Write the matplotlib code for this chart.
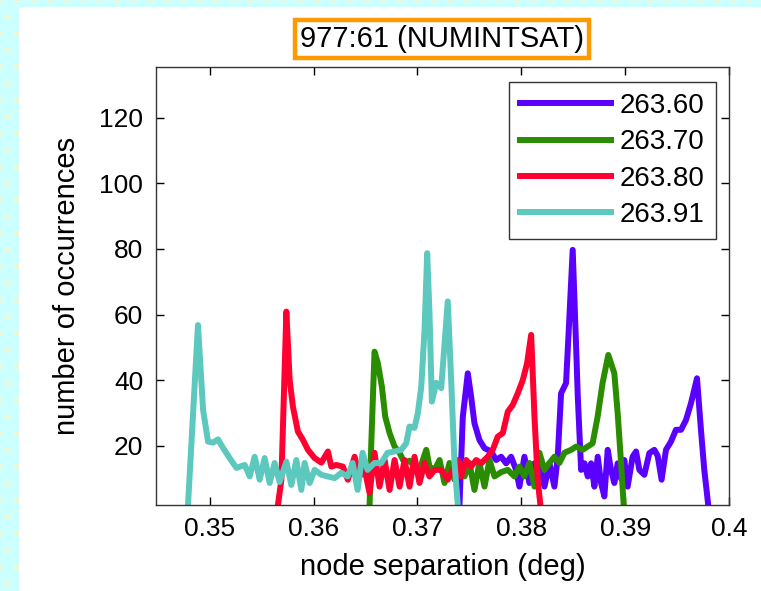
import matplotlib
matplotlib.use("Agg")
import matplotlib.pyplot as plt
from matplotlib.patches import Rectangle

plt.rcParams['font.family'] = ['Liberation Sans', 'DejaVu Sans']

# histogram traces of node separation, one per semi-major axis value
labels = ['263.60', '263.70', '263.80', '263.91']
colors = ['#5a00ff', '#2a8c00', '#ff0030', '#5cc8be']

sep_6360 = [0.37405, 0.37437, 0.37485, 0.37517, 0.37549, 0.37597, 0.37646, 0.37710,
            0.37758, 0.37806, 0.37854, 0.37902, 0.37950, 0.37982, 0.38030, 0.38078,
            0.38127, 0.38175, 0.38223, 0.38271, 0.38319, 0.38351, 0.38383, 0.38431,
            0.38457, 0.38495, 0.38528, 0.38544, 0.38576, 0.38608, 0.38640, 0.38672,
            0.38704, 0.38736, 0.38768, 0.38800, 0.38832, 0.38864, 0.38896, 0.38928,
            0.38961, 0.38992, 0.39024, 0.39072, 0.39105, 0.39137, 0.39185, 0.39233,
            0.39281, 0.39313, 0.39351, 0.39393, 0.39441, 0.39489, 0.39538, 0.39586,
            0.39634, 0.39692, 0.39730, 0.39762, 0.39800]
cnt_6360 = [2, 28.9, 42.1, 35, 26.9, 21.8, 19.3, 18.3,
            15.7, 16.7, 14.7, 16.7, 12.7, 7.6, 16.7, 8.7,
            14.7, 13.7, 7.6, 14.7, 7.6, 16.7, 36, 39.1,
            55.3, 79.7, 50.2, 35, 12.7, 14.7, 10.7, 14.7,
            7.6, 16.7, 8.7, 4.6, 18.8, 12.7, 8.7, 14.7,
            10, 15.7, 7.6, 16.7, 18.3, 12.7, 11.2, 17.8,
            18.8, 17, 9.7, 18.8, 21.3, 24.9, 24.9, 27.9,
            33, 40.6, 24.9, 12.7, 2]

sep_6370 = [0.36539, 0.36556, 0.36587, 0.36619, 0.36658, 0.36690, 0.36732, 0.36780,
            0.36828, 0.36876, 0.36924, 0.36972, 0.37020, 0.37085, 0.37116, 0.37165,
            0.37213, 0.37261, 0.37309, 0.37357, 0.37405, 0.37453, 0.37501, 0.37549,
            0.37597, 0.37646, 0.37694, 0.37742, 0.37806, 0.37870, 0.37934, 0.37982,
            0.38030, 0.38078, 0.38127, 0.38175, 0.38223, 0.38271, 0.38319, 0.38367,
            0.38415, 0.38480, 0.38528, 0.38591, 0.38687, 0.38735, 0.38783, 0.38838,
            0.38896, 0.38928, 0.38961, 0.38986]
cnt_6370 = [1.5, 21, 48.7, 45.2, 38, 28.9, 23.9, 19.8,
            17.9, 14.8, 15.5, 13.7, 12.7, 18.8, 13.7, 12.7,
            15.7, 8.7, 14.8, 9.7, 14.8, 10.7, 14.8, 6.6,
            14.8, 7.6, 15.7, 10.7, 12, 12.7, 10.7, 13.7,
            10.7, 14.8, 7.6, 17.9, 12.7, 14.8, 16.7, 14.8,
            17.9, 18.8, 19.8, 18.8, 20.8, 28.9, 39.2, 47.7,
            42.1, 30, 14.7, 2]

sep_6380 = [0.35657, 0.35690, 0.35738, 0.35770, 0.35801, 0.35849, 0.35898, 0.35946,
            0.36010, 0.36075, 0.36138, 0.36171, 0.36219, 0.36282, 0.36330, 0.36395,
            0.36443, 0.36491, 0.36539, 0.36587, 0.36635, 0.36684, 0.36732, 0.36780,
            0.36828, 0.36876, 0.36924, 0.36972, 0.37020, 0.37068, 0.37116, 0.37165,
            0.37229, 0.37292, 0.37341, 0.37389, 0.37421, 0.37469, 0.37517, 0.37566,
            0.37614, 0.37677, 0.37725, 0.37773, 0.37822, 0.37870, 0.37918, 0.37966,
            0.38014, 0.38056, 0.38095, 0.38127, 0.38158, 0.38184]
cnt_6380 = [2, 9.7, 60.9, 40, 32, 24.4, 21.8, 18.8,
            16.3, 14.9, 18.3, 13.7, 14.2, 13.7, 9.7, 16.7,
            10.7, 13, 5.7, 17.9, 7.6, 15.7, 6.6, 15.7,
            7.6, 15.7, 7.6, 16.7, 8.7, 14.8, 10.7, 12.7,
            12.7, 9.7, 12.7, 15.7, 10.7, 15.7, 13.7, 15.7,
            14.7, 16.7, 18.8, 22.8, 23.9, 30.4, 32.5, 36,
            40, 45.2, 53.8, 28.9, 9.7, 2]

sep_6391 = [0.34791, 0.34887, 0.34936, 0.34984, 0.35032, 0.35080, 0.35128, 0.35192,
            0.35257, 0.35337, 0.35385, 0.35433, 0.35481, 0.35529, 0.35577, 0.35625,
            0.35673, 0.35738, 0.35786, 0.35834, 0.35882, 0.35914, 0.35962, 0.36010,
            0.36075, 0.36135, 0.36203, 0.36267, 0.36328, 0.36376, 0.36424, 0.36472,
            0.36520, 0.36587, 0.36652, 0.36712, 0.36780, 0.36844, 0.36892, 0.36924,
            0.36972, 0.37004, 0.37037, 0.37068, 0.37094, 0.37116, 0.37139, 0.37181,
            0.37229, 0.37292, 0.37325, 0.37357, 0.37389]
cnt_6391 = [2, 56.8, 31, 21.3, 21, 22, 19.4, 16.3,
            13.3, 14.2, 10.7, 16.7, 9.7, 16.3, 8.7, 14.8,
            9, 15.2, 8.1, 15.7, 6.6, 14.8, 8.7, 12.7,
            11.2, 10.7, 10.2, 11.8, 10.7, 14.8, 6.6, 17.9,
            12.7, 14.8, 14.8, 17.9, 18.3, 18.8, 20.8, 25.9,
            25.5, 30, 38, 55, 78.7, 60.5, 33.5, 39.2,
            37.6, 64, 40, 14.8, 2]

series = [(sep_6360, cnt_6360), (sep_6370, cnt_6370),
          (sep_6380, cnt_6380), (sep_6391, cnt_6391)]

fig = plt.figure(figsize=(7.61, 5.91), dpi=100)
fig.patch.set_facecolor('white')

# page background: cyan strips with faint dots on top and left
for r in [(0, 0, 19 / 761, 1), (0, 1 - 7 / 591, 1, 7 / 591)]:
    fig.patches.append(Rectangle(r[:2], r[2], r[3], transform=fig.transFigure,
                                 facecolor='#ccffff', edgecolor='#f4f4c8',
                                 hatch='.', linewidth=0, zorder=0))

ax = fig.add_axes([155.7 / 761, 1 - 505 / 591, (729 - 155.7) / 761, (505 - 67) / 591])

for (x, y), c, lab in zip(series, colors, labels):
    ax.plot(x, y, color=c, lw=4.3, label=lab, solid_joinstyle='round')

ax.set_xlim(0.3448, 0.4)
ax.set_ylim(2, 135.4)
ax.set_xticks([0.35, 0.36, 0.37, 0.38, 0.39, 0.4])
ax.set_xticklabels(['0.35', '0.36', '0.37', '0.38', '0.39', '0.4'])
ax.set_yticks([20, 40, 60, 80, 100, 120])
ax.tick_params(direction='in', length=6, width=1, top=True, right=True,
               labelsize=19, pad=9)
for s in ax.spines.values():
    s.set_linewidth(1)
    s.set_color('#333333')

ax.set_xlabel('node separation (deg)', fontsize=21, labelpad=8)
ax.set_ylabel('number of occurrences', fontsize=21, labelpad=13)

leg = ax.legend(loc='upper right', fontsize=20, frameon=True, fancybox=False,
                edgecolor='black', handlelength=3.27, handletextpad=0.32,
                labelspacing=0.37, borderpad=0.4, borderaxespad=0,
                bbox_to_anchor=(0.977, 0.966))
leg.get_frame().set_linewidth(1)
for h in leg.get_lines():
    h.set_linewidth(4.3)

fig.text(442 / 761, 1 - 39 / 591, '977:61 (NUMINTSAT)', fontsize=21,
         ha='center', va='center',
         bbox=dict(boxstyle='square,pad=0.18', facecolor='white',
                   edgecolor='#ff9900', linewidth=3.2))

fig.savefig('out.png', dpi=100)
